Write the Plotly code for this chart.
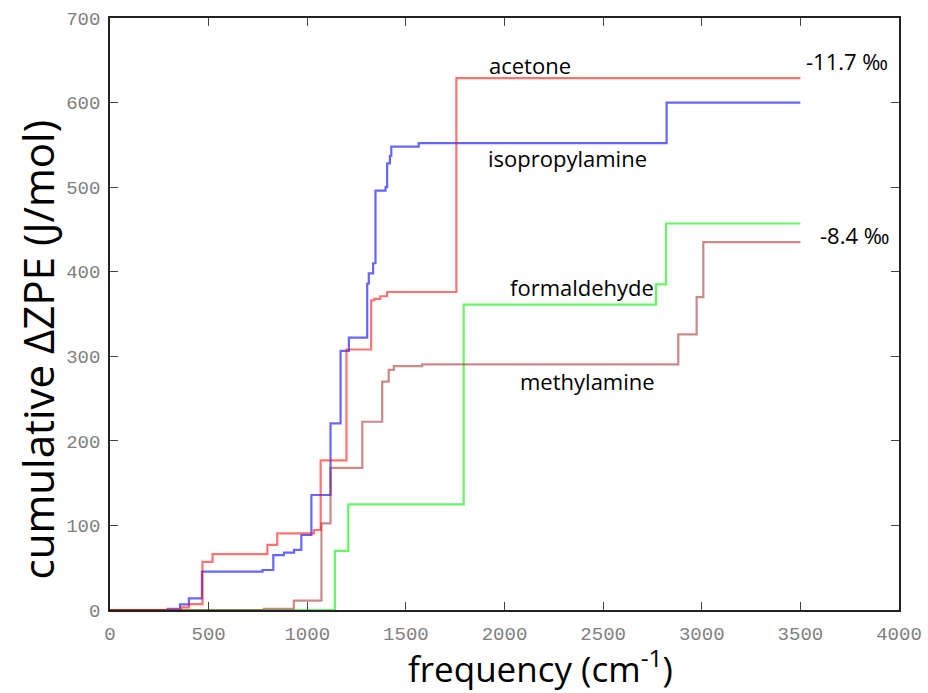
import plotly.graph_objects as go

# ---- data (frequency in cm^-1, cumulative ΔZPE in J/mol) ----
acetone_freq = [0, 360, 400, 469, 520, 798, 848, 1034, 1068, 1199, 1324, 1340, 1370, 1405, 1756, 3500]
acetone_val = [0, 3, 7, 57, 66, 77, 90.7, 94.6, 177, 308, 366, 368, 371, 376, 629, 629]

isopropylamine_freq = [0, 292, 355, 400, 466, 773, 828, 882, 933, 970, 1021, 1118, 1169, 1211,
                       1304, 1312, 1334, 1346, 1397, 1405, 1419, 1426, 1565, 2822, 3500]
isopropylamine_val = [0, 1.5, 6.7, 13.8, 45.3, 47.3, 65, 67.8, 71, 88.7, 136, 220.7, 306.5, 322,
                      386, 398, 410, 496, 500, 528, 537, 548, 552, 600, 600]

formaldehyde_freq = [0, 1140, 1208, 1793, 2768, 2819, 3500]
formaldehyde_val = [0, 70, 125, 361, 385, 457, 457]

methylamine_freq = [0, 780, 932, 1072, 1118, 1279, 1380, 1413, 1439, 1582, 2881, 2974, 3008, 3500]
methylamine_val = [0, 1.5, 11, 102.5, 168, 222.6, 270, 284, 288.4, 290.4, 326, 370, 435, 435]

x_ticks = [0, 500, 1000, 1500, 2000, 2500, 3000, 3500, 4000]
y_ticks = [0, 100, 200, 300, 400, 500, 600, 700]

labels = ["acetone", "isopropylamine", "formaldehyde", "methylamine", "-11.7 ‰", "-8.4 ‰"]
label_x = [2130, 2318, 2394, 2419, 3735, 3775]
label_y = [644, 534, 382, 271, 649, 443]

x_title = "frequency (cm<sup>-1</sup>)"
y_title = "cumulative ΔZPE (J/mol)"

series = [
    (isopropylamine_freq, isopropylamine_val, "rgba(0,0,255,0.6)"),
    (formaldehyde_freq, formaldehyde_val, "rgba(0,240,0,0.6)"),
    (methylamine_freq, methylamine_val, "rgba(160,40,40,0.55)"),
    (acetone_freq, acetone_val, "rgba(255,0,0,0.55)"),
]

fig = go.Figure()
for fx, fy, col in series:
    fig.add_trace(go.Scatter(x=fx, y=fy, mode="lines", line=dict(shape="hv", color=col, width=2.2),
                             showlegend=False, hoverinfo="skip"))

for t, lx, ly in zip(labels, label_x, label_y):
    fig.add_annotation(x=lx, y=ly, text=t, showarrow=False,
                       font=dict(family="Open Sans", size=22, color="black"))

# axis titles placed as paper annotations (offset as in the reference)
fig.add_annotation(xref="paper", yref="paper", x=0.545, y=-0.096, text=x_title, showarrow=False,
                   xanchor="center", yanchor="middle",
                   font=dict(family="Open Sans", size=35, color="black"))
fig.add_annotation(xref="paper", yref="paper", x=-0.0913, y=0.44, text=y_title, showarrow=False,
                   xanchor="center", yanchor="middle", textangle=-90,
                   font=dict(family="Open Sans", size=42, color="black"))

axis_common = dict(showgrid=False, zeroline=False, showline=True, linecolor="#222", linewidth=1.6,
                   mirror="ticks", ticks="inside", ticklen=8, tickwidth=1.4, tickcolor="#444",
                   automargin=False,
                   tickfont=dict(family="Liberation Mono", size=19, color="#808080"))

fig.update_xaxes(range=[0, 4000], tickvals=x_ticks, ticktext=[str(v) for v in x_ticks],
                 ticklabelstandoff=5, **axis_common)
fig.update_yaxes(range=[0, 700], tickvals=y_ticks, ticktext=[str(v) for v in y_ticks],
                 ticklabelstandoff=4, **axis_common)

fig.update_layout(width=928, height=693, margin=dict(l=110, r=29, t=18, b=83),
                  plot_bgcolor="white", paper_bgcolor="white")

fig.write_html("out.html")
